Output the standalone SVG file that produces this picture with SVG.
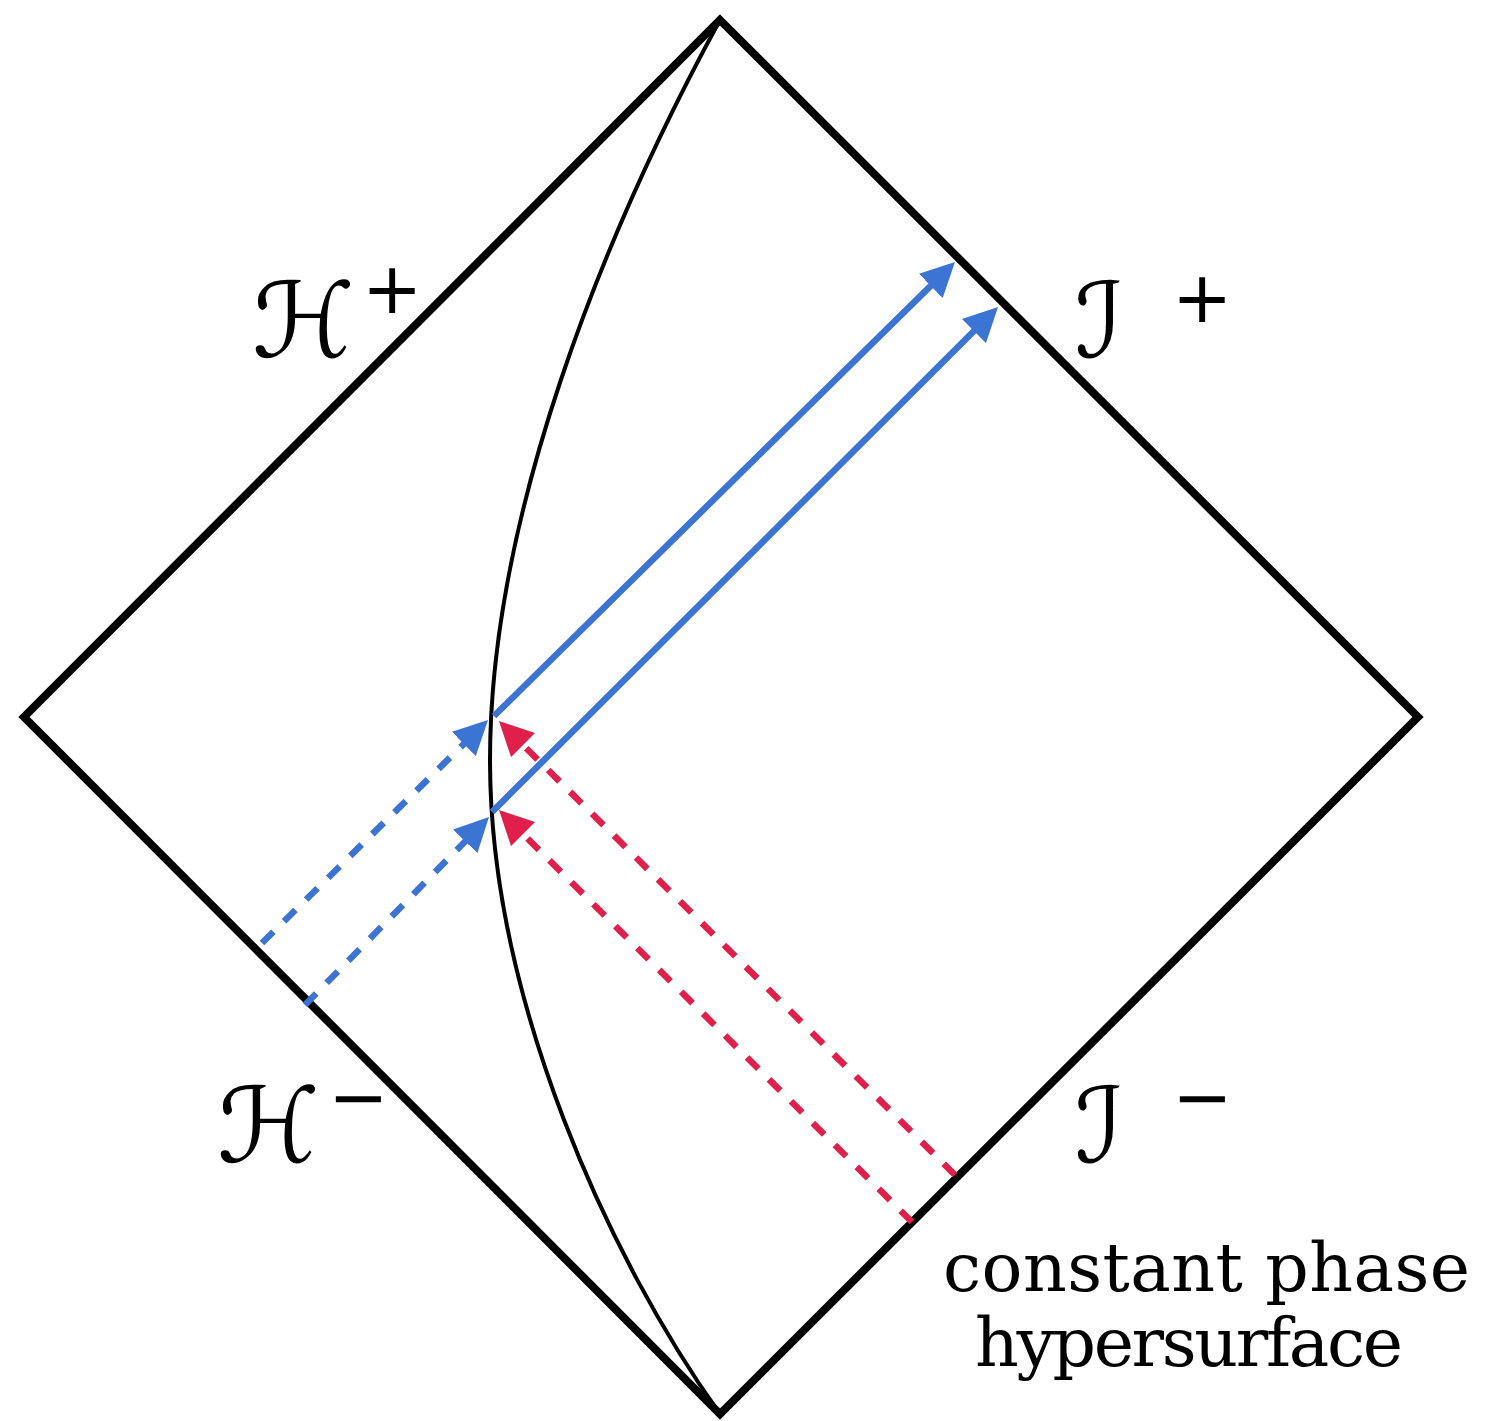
<svg xmlns="http://www.w3.org/2000/svg" width="1485" height="1421" viewBox="0 0 1485 1421">
<style>
.frame{fill:none;stroke:#000;stroke-width:8;stroke-linejoin:miter}
.curve{fill:none;stroke:#000;stroke-width:4}
.blue{fill:none;stroke:#3c74d3;stroke-width:6.5}
.red{fill:none;stroke:#e0204a;stroke-width:6.5}
.dash{stroke-dasharray:16 15}
.lbl{font-family:"DejaVu Serif","Liberation Serif",serif;fill:#000}
.script{font-family:"DejaVu Serif","DejaVu Sans",serif;font-style:italic;font-size:104px}
.sup{font-family:"DejaVu Sans","Liberation Sans",sans-serif;font-size:72px}
.cap{font-family:"DejaVu Serif","Liberation Serif",serif;font-size:68px}
</style>
<defs>
<marker id="ab" viewBox="0 0 34 34" refX="6" refY="17" markerWidth="34" markerHeight="34" markerUnits="userSpaceOnUse" orient="auto">
<path d="M0,0 L34,17 L0,34 z" fill="#3c74d3"/>
</marker>
<marker id="ar" viewBox="0 0 34 34" refX="6" refY="17" markerWidth="34" markerHeight="34" markerUnits="userSpaceOnUse" orient="auto">
<path d="M0,0 L34,17 L0,34 z" fill="#e0204a"/>
</marker>
</defs>
<g id="diagram">
<polygon id="penrose-frame" class="frame" points="720,20 1418,717 720,1414 24,717"/>
<path id="boundary-curve" class="curve" d="M720,20 C600,240 490,520 490,760 C490,1000 610,1260 720,1414"/>
</g>
<g id="connectors">
<line class="blue" x1="494" y1="716" x2="935" y2="281.6" marker-end="url(#ab)"/>
<line class="blue" x1="492" y1="812" x2="978.2" y2="326.8" marker-end="url(#ab)"/>
<line class="blue dash" x1="262" y1="943" x2="468.1" y2="739.7" marker-end="url(#ab)"/>
<line class="blue dash" x1="305" y1="1005" x2="469.4" y2="837" marker-end="url(#ab)"/>
<line class="red dash" x1="955" y1="1175" x2="518.8" y2="740.8" marker-end="url(#ar)"/>
<line class="red dash" x1="912" y1="1222" x2="518.8" y2="829.8" marker-end="url(#ar)"/>
</g>
<g id="label-H-plus">
<text class="lbl script" x="252" y="357">ℋ</text>
<text class="sup" x="362" y="313">+</text>
</g>
<g id="label-I-plus">
<text class="lbl script" x="1075" y="357">ℐ</text>
<text class="sup" x="1172" y="322">+</text>
</g>
<g id="label-H-minus">
<text class="lbl script" x="217" y="1162">ℋ</text>
<text class="sup" x="328" y="1122">−</text>
</g>
<g id="label-I-minus">
<text class="lbl script" x="1075" y="1162">ℐ</text>
<text class="sup" x="1172" y="1122">−</text>
</g>
<g id="caption">
<text class="cap" x="943" y="1291" textLength="527">constant phase</text>
<text class="cap" x="975" y="1366" textLength="428">hypersurface</text>
</g>
</svg>
